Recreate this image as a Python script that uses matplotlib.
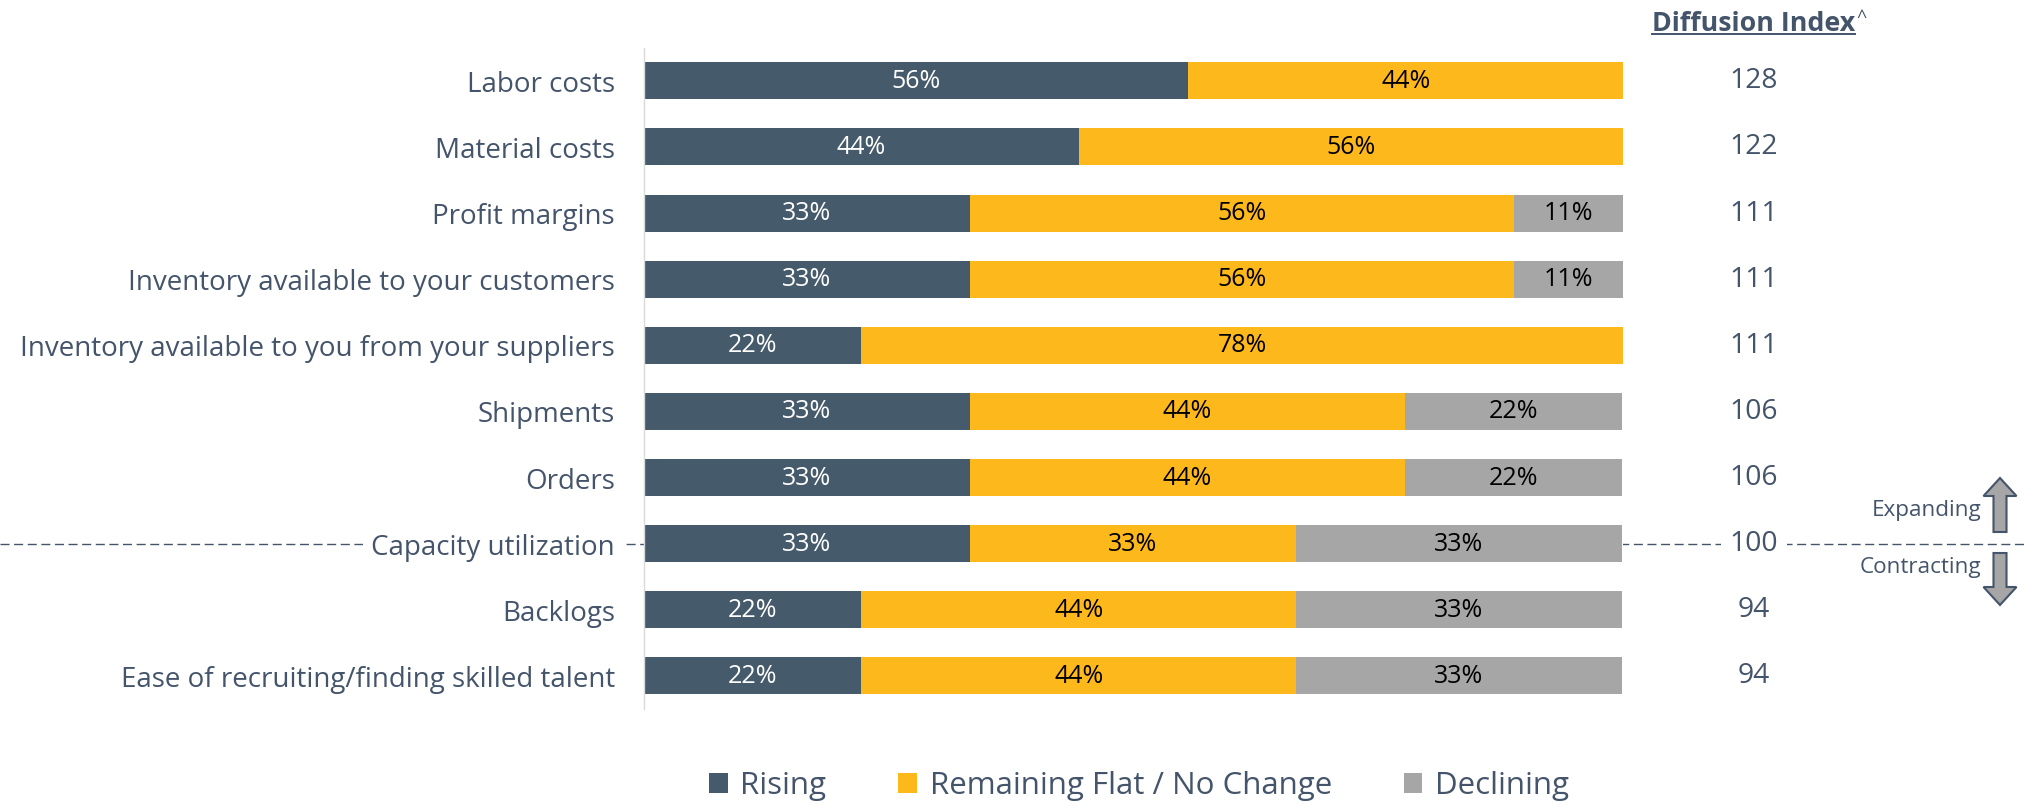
import matplotlib
matplotlib.use("Agg")
import matplotlib.pyplot as plt
from matplotlib.patches import Patch, FancyArrow
from matplotlib.lines import Line2D
from matplotlib.transforms import blended_transform_factory, IdentityTransform

plt.rcParams['font.family'] = ['Open Sans', 'DejaVu Sans']

categories = ["Labor costs", "Material costs", "Profit margins",
              "Inventory available to your customers",
              "Inventory available to you from your suppliers",
              "Shipments", "Orders", "Capacity utilization", "Backlogs",
              "Ease of recruiting/finding skilled talent"]
rising =    [55.6, 44.4, 33.3, 33.3, 22.2, 33.3, 33.3, 33.3, 22.2, 22.2]
flat =      [44.4, 55.6, 55.6, 55.6, 77.8, 44.4, 44.4, 33.3, 44.4, 44.4]
declining = [0.0, 0.0, 11.1, 11.1, 0.0, 22.2, 22.2, 33.3, 33.3, 33.3]
diffusion = [128, 122, 111, 111, 111, 106, 106, 100, 94, 94]
series_names = ["Rising", "Remaining Flat / No Change", "Declining"]

C_RISE = "#455A6B"
C_FLAT = "#FDB81C"
C_DECL = "#A6A6A6"
TXT = "#44546A"

W, H = 2025, 804
fig = plt.figure(figsize=(20.25, 8.045), dpi=100)
fig.patch.set_facecolor("white")
ax = fig.add_axes([644 / W, 1 - 709 / H, (1623 - 644) / W, (709 - 48) / H])

ypos = list(range(len(categories)))
bh = 0.56
series = [(rising, C_RISE, "white"), (flat, C_FLAT, "black"), (declining, C_DECL, "black")]
left = [0.0] * len(categories)
for vals, col, tcol in series:
    ax.barh(ypos, vals, left=left, height=bh, color=col, zorder=2)
    for y, v, l in zip(ypos, vals, left):
        if v > 0:
            ax.text(l + v / 2, y, f"{v:.0f}%", ha="center", va="center",
                    fontsize=18, color=tcol, zorder=3)
    left = [a + b for a, b in zip(left, vals)]

ax.set_xlim(0, 100)
ax.set_ylim(9.5, -0.504)
ax.set_yticks(ypos)
ax.set_yticklabels(categories, fontsize=20, color=TXT)
ax.tick_params(axis="y", length=0, pad=21)
ax.set_xticks([])
for s in ["top", "right", "bottom"]:
    ax.spines[s].set_visible(False)
ax.spines["left"].set_color("#D9D9D9")
ax.spines["left"].set_linewidth(1.0)
for t in ax.get_yticklabels():
    t.set_bbox(dict(boxstyle="square,pad=0.3", fc="white", ec="none"))

# diffusion index column
tr = ax.get_yaxis_transform()
xcol = (1754 - 644) / (1623 - 644)
for y, d in zip(ypos, diffusion):
    ax.text(xcol, y, f"{d}", transform=tr, ha="center", va="center", fontsize=20.3,
            color=TXT, clip_on=False, zorder=5,
            bbox=dict(boxstyle="square,pad=0.3", fc="white", ec="none"))

# neutral line at 100
row100 = diffusion.index(100)
btr = blended_transform_factory(fig.transFigure, ax.transData)
ln = Line2D([0, 1], [row100, row100], transform=btr, color=TXT, lw=1.0,
            linestyle=(0, (6.5, 3.3)), zorder=-1)
fig.add_artist(ln)

# header
hdr = fig.text(1652 / W, 1 - 24 / H, "Diffusion Index", ha="left", va="center",
               fontsize=19.3, fontweight="bold", color=TXT)
fig.canvas.draw()
bb = hdr.get_window_extent()
fig.add_artist(Line2D([bb.x0, bb.x1], [H - 34, H - 34], transform=IdentityTransform(),
                      color=TXT, lw=1.4))
fig.text(bb.x1 + 1, H - 17, "^", transform=IdentityTransform(), ha="left", va="center",
         fontsize=13, color=TXT)

# arrows
for (tail, tip, lab, ly) in [(532, 478, "Expanding", 510), (553, 605, "Contracting", 567)]:
    fig.add_artist(FancyArrow(2000, H - tail, 0, tail - tip,
                              width=13, head_width=33, head_length=18,
                              length_includes_head=True, transform=IdentityTransform(),
                              fc="#A6A6A6", ec=TXT, lw=1.5))
    fig.text(1981 / W, 1 - ly / H, lab, ha="right", va="center", fontsize=16.2, color=TXT)

# legend
handles = [Patch(facecolor=c, edgecolor="none") for c in (C_RISE, C_FLAT, C_DECL)]
fig.legend(handles, series_names, loc="center", bbox_to_anchor=(1139 / W, 1 - 786 / H),
           ncol=3, frameon=False, fontsize=22.5, labelcolor=TXT, handlelength=0.6,
           handleheight=0.6, handletextpad=0.4, columnspacing=2.3)

fig.savefig("out.png", dpi=100, facecolor="white")
